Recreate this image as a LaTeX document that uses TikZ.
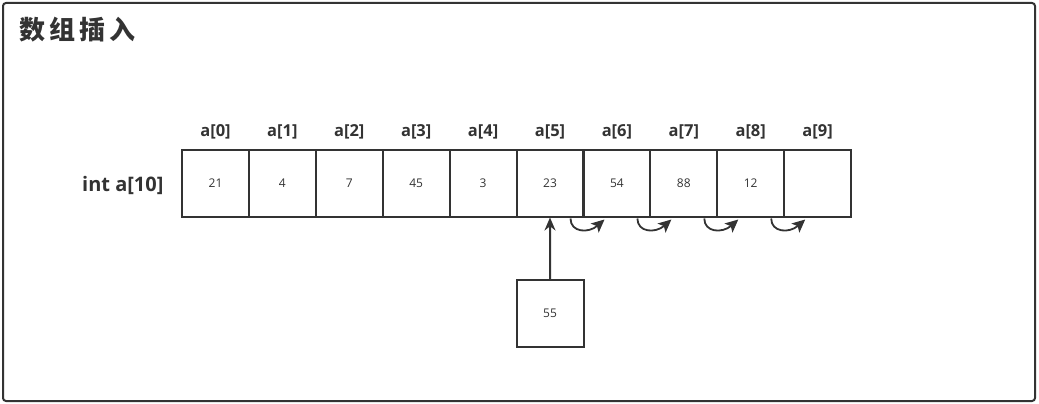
\documentclass[tikz,border=0pt]{standalone}
\usepackage{fontspec}
\setmainfont{Open Sans}
\newfontfamily\cjk{Noto Sans CJK SC}
\usetikzlibrary{arrows.meta}
\definecolor{ink}{HTML}{333333}
\tikzset{
  cell/.style={draw=ink, line width=2pt, minimum width=67pt, minimum height=67pt, inner sep=0pt, font=\fontsize{12}{14}\selectfont, text=ink},
  idx/.style={font=\bfseries\fontsize{16.5}{20}\selectfont, text=ink},
  arr/.style={draw=ink, line width=2pt, -{Stealth[length=13pt,width=11pt]}},
  shiftarr/.style={draw=ink, line width=1.8pt, -{Stealth[length=13pt,width=12pt,inset=3pt]}}
}
\begin{document}
\begin{tikzpicture}[x=1pt,y=-1pt]
\useasboundingbox (0,0) rectangle (1039,404);
\draw[ink, line width=2pt, rounded corners=3pt] (3,3) rectangle (1035,401);
\node[anchor=west, inner sep=0pt, font=\cjk\bfseries\fontsize{26}{30}\selectfont, text=ink] (title) at (19,30) {数\hspace{4pt}组\hspace{4pt}插\hspace{4pt}入};
\node[idx, anchor=east, font=\bfseries\fontsize{20}{24}\selectfont] (decl) at (167,185) {int a[10]};
\foreach \v [count=\i from 0] in {21,4,7,45,3,23,54,88,12,{}} {
  \node[cell] (c\i) at ({215.5+66.9*\i},183) {\v};
  \node[idx] (l\i) at ({215.5+66.9*\i},132) {a[\i]};
}
\node[cell] (new) at (550,313.5) {55};
\draw[arr] (new.north) -- (c5.south);
\foreach \i/\j in {5/6,6/7,7/8,8/9} {
  \coordinate (s\i) at ([xshift=-14pt,yshift=-1pt]c\i.south east);
  \coordinate (e\i) at ([xshift=20pt,yshift=-2pt]c\i.south east);
  \draw[shiftarr] (s\i) .. controls ([yshift=-14pt]s\i) and ([xshift=-16pt,yshift=-14pt]e\i) .. (e\i);
}
\end{tikzpicture}
\end{document}
